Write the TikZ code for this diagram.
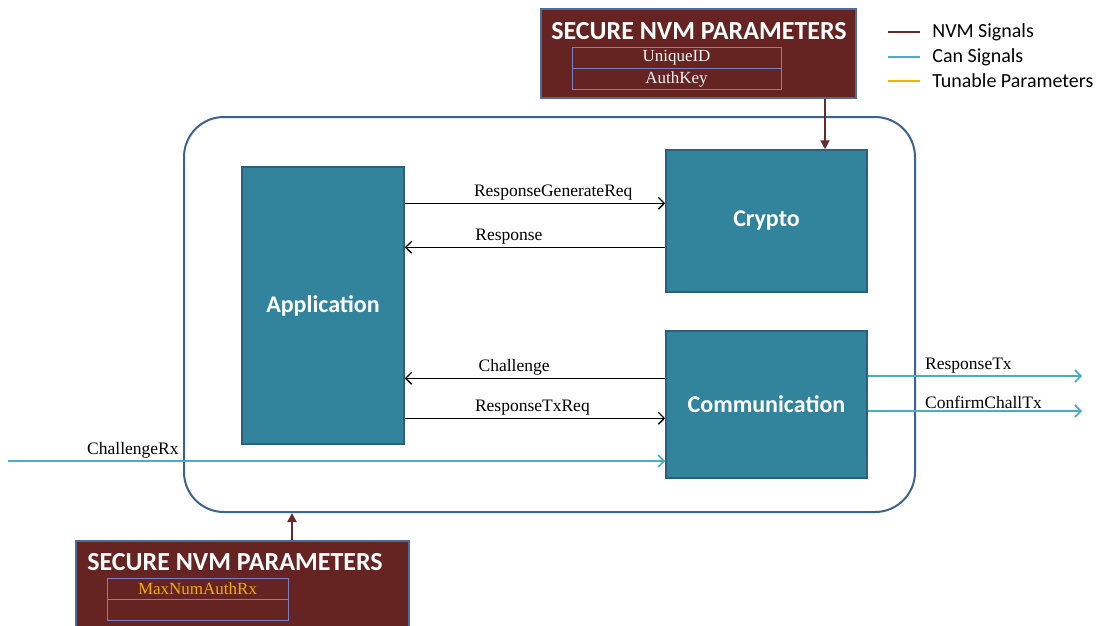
\documentclass[tikz,border=0pt]{standalone}
\usepackage{fontspec}
\setmainfont{Liberation Serif}
\newfontfamily\calib{Carlito}
\usetikzlibrary{arrows.meta, positioning}

\definecolor{tealblk}{HTML}{31849B}
\definecolor{tealedge}{HTML}{2C5F80}
\definecolor{nvmred}{HTML}{652421}
\definecolor{nvmedge}{HTML}{4A6C96}
\definecolor{frameblue}{HTML}{3B6392}
\definecolor{cansig}{HTML}{4BACC6}
\definecolor{nvmsig}{HTML}{6B2A2A}
\definecolor{tunesig}{HTML}{F0B400}
\definecolor{tabline}{HTML}{7B7FC4}

\tikzset{
  block/.style={draw=tealedge, line width=1.5pt, fill=tealblk, text=white,
    font=\calib\bfseries\fontsize{24}{27}\selectfont},
  nvmbox/.style={draw=nvmedge, line width=2pt, fill=nvmred, anchor=north west},
  nvmtitle/.style={text=white, font=\calib\bfseries\fontsize{26}{29}\selectfont},
  cell/.style={draw=tabline, line width=0.8pt, minimum height=21pt, inner sep=0pt,
    text=white!90!gray, font=\fontsize{17}{19}\selectfont},
  sig/.style={black, line width=1.3pt, -{Straight Barb[length=6pt,width=12pt]}},
  cansigarrow/.style={cansig, line width=1.6pt, -{Straight Barb[length=6pt,width=12pt]}},
  nvmarrow/.style={nvmsig, line width=2pt, -{Triangle[length=9pt,width=9pt]}},
  lbl/.style={font=\fontsize{17.5}{19}\selectfont, above, inner sep=2pt},
  legtext/.style={font=\calib\fontsize{20}{22}\selectfont, anchor=west}
}

\begin{document}
\begin{tikzpicture}[x=1pt, y=-1pt]
\useasboundingbox (0,0) rectangle (1104,625);

% Frame around the module
\node[draw=frameblue, line width=2pt, rounded corners=40pt, minimum width=731pt,
  minimum height=395pt] (frame) at (549.5,314.5) {};

% Blocks
\node[block, minimum width=162pt, minimum height=277pt] (app) at (323,305.5) {Application};
\node[block, minimum width=201pt, minimum height=142pt] (crypto) at (766.5,221) {Crypto};
\node[block, minimum width=201pt, minimum height=147pt] (comm) at (766.5,404.5) {Communication};

% Secure NVM parameters, top
\node[nvmbox, minimum width=315pt, minimum height=89pt] (nvmtop) at (540,8) {};
\node[nvmtitle] (nvmtoptitle) at (699,31) {SECURE NVM PARAMETERS};
\node[cell, minimum width=209pt] (uid) at (676.5,57.5) {UniqueID};
\node[cell, minimum width=209pt, below=0pt of uid] (akey) {AuthKey};

% Secure NVM parameters, bottom
\node[nvmbox, minimum width=333pt, minimum height=100pt] (nvmbot) at (75,540) {};
\node[nvmtitle] (nvmbottitle) at (235,562) {SECURE NVM PARAMETERS};
\node[cell, minimum width=181pt, text=tunesig!85!orange] (maxauth) at (197.5,588.5) {MaxNumAuthRx};
\node[cell, minimum width=181pt, below=0pt of maxauth] (empty) {};

% Legend
\coordinate (leg1) at (888,32);
\coordinate (leg2) at (888,57);
\coordinate (leg3) at (888,81);
\draw[nvmsig, line width=2pt] (leg1) -- ++(32,0) node[legtext, black, xshift=8pt] (legnvm) {NVM Signals};
\draw[cansig, line width=2pt] (leg2) -- ++(32,0) node[legtext, black, xshift=8pt] (legcan) {Can Signals};
\draw[tunesig, line width=2pt] (leg3) -- ++(32,0) node[legtext, black, xshift=8pt] (legtune) {Tunable Parameters};

% Internal signals
\draw[sig] ([yshift=-37pt]app.north east) -- ([yshift=-37pt]app.north east -| crypto.west)
  node[lbl, pos=0.57] {ResponseGenerateReq};
\draw[sig] ([yshift=-81pt]app.north east -| crypto.west) -- ([yshift=-81pt]app.north east)
  node[lbl, pos=0.6] {Response};
\draw[sig] ([yshift=-212pt]app.north east -| comm.west) -- ([yshift=-212pt]app.north east)
  node[lbl, pos=0.58] {Challenge};
\draw[sig] ([yshift=-252pt]app.north east) -- ([yshift=-252pt]app.north east -| comm.west)
  node[lbl, pos=0.49] {ResponseTxReq};

% Can signals
\coordinate (chrxstart) at (8,461);
\coordinate (rtxend) at (1082,376);
\coordinate (cctxend) at (1082,411);
\draw[cansigarrow] (chrxstart) -- (chrxstart -| comm.west)
  node[lbl, black, pos=0.19] {ChallengeRx};
\draw[cansigarrow] (comm.east |- rtxend) -- (rtxend)
  node[lbl, black, pos=0.47] {ResponseTx};
\draw[cansigarrow] (comm.east |- cctxend) -- (cctxend)
  node[lbl, black, pos=0.54] {ConfirmChallTx};

% NVM signals
\draw[nvmarrow] ([xshift=58.5pt]crypto.north |- nvmtop.south) -- ([xshift=58.5pt]crypto.north);
\draw[nvmarrow] ([xshift=-31pt]app.center |- nvmbot.north) -- ([xshift=-31pt]app.center |- frame.south);

\end{tikzpicture}
\end{document}
